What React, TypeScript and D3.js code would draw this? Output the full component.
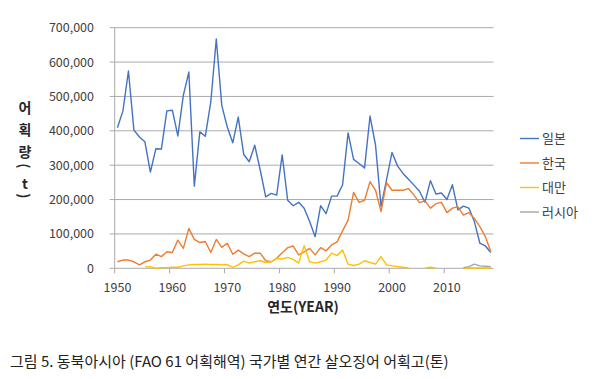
import React from "react";
import * as d3 from "d3";

const years: number[] = d3.range(1950, 2019);

const japan: (number | null)[] = [
  409000, 458000, 574000, 402000, 382000, 368000, 280000, 348000, 347000, 458000,
  460000, 385000, 503000, 571000, 239000, 397000, 384000, 484000, 667000, 474000,
  411000, 365000, 440000, 331000, 310000, 358000, 286000, 208000, 218000, 213000,
  330000, 198000, 182000, 192000, 175000, 136000, 92000, 182000, 159000, 210000,
  210000, 243000, 394000, 317000, 305000, 292000, 443000, 358000, 180000, 257000,
  337000, 298000, 276000, 259000, 242000, 224000, 192000, 255000, 216000, 219000,
  200000, 243000, 170000, 181000, 175000, 136000, 73000, 65000, 46000,
];

const korea: (number | null)[] = [
  19000, 24000, 24000, 19000, 10000, 19000, 24000, 41000, 34000, 48000,
  46000, 82000, 58000, 116000, 84000, 75000, 78000, 46000, 84000, 61000,
  73000, 41000, 53000, 42000, 34000, 44000, 44000, 22000, 19000, 29000,
  45000, 60000, 65000, 39000, 48000, 58000, 39000, 60000, 51000, 68000,
  77000, 109000, 140000, 221000, 192000, 198000, 252000, 227000, 165000, 249000,
  227000, 227000, 227000, 232000, 213000, 191000, 196000, 175000, 188000, 192000,
  162000, 175000, 179000, 155000, 162000, 145000, 121000, 92000, 48000,
];

const taiwan: (number | null)[] = [
  null, null, null, null, null, 4000, 5000, 0, 2000, 2000,
  3000, 3000, 7000, 10000, 11000, 11000, 12000, 11000, 11000, 10000,
  11000, 3000, 10000, 21000, 15000, 19000, 22000, 17000, 19000, 29000,
  27000, 32000, 26000, 15000, 66000, 19000, 15000, 19000, 24000, 44000,
  37000, 53000, 12000, 8000, 12000, 22000, 17000, 12000, 34000, 10000,
  7000, 5000, 3000, 1000, null, null, 0, 3000, 0, null,
  null, null, null, 1000, 1000, 1000, 1000, 1000, 1000,
];

const russia: (number | null)[] = [
  null, null, null, null, null, null, null, null, null, null,
  null, null, null, null, null, null, null, null, null, null,
  null, null, null, null, null, null, null, null, null, null,
  null, null, null, null, null, null, null, null, null, null,
  null, null, null, null, null, null, null, null, null, null,
  null, null, null, null, null, null, null, null, null, null,
  null, null, null, 2000, 5000, 12000, 7000, 6000, 5000,
];

const seriesNames = ["일본", "한국", "대만", "러시아"];
const seriesColors = ["#4472C4", "#ED7D31", "#FFC000", "#A5A5A5"];
const seriesData = [japan, korea, taiwan, russia];

const yTicks = [0, 100000, 200000, 300000, 400000, 500000, 600000, 700000];
const xLabelYears = [1950, 1960, 1970, 1980, 1990, 2000, 2010];

const yTitleChars = ["어", "획", "량"];
const xTitle = "연도(YEAR)";
const caption = "그림 5. 동북아시아 (FAO 61 어획해역) 국가별 연간 살오징어 어획고(톤)";

const FONT = "'Noto Sans CJK KR', 'Noto Sans', sans-serif";

export default function App() {
  const left = 114.7;
  const right = 493.6;
  const top = 27.7;
  const bottom = 268.3;

  const x = d3.scalePoint<number>().domain(years).range([left, right]).padding(0.5);
  const step = x.step();
  const y = d3.scaleLinear().domain([0, 700000]).range([bottom, top]);

  const line = d3
    .line<number | null>()
    .defined((d) => d !== null)
    .x((_, i) => x(years[i]) as number)
    .y((d) => y(d as number));

  const gridColor = "#ABABAB";
  const textColor = "#404040";

  return (
    <svg
      width={600}
      height={379}
      style={{ position: "absolute", left: 0, top: 0, background: "#fff" }}
    >
      {yTicks.map((t) =>
        t === 0 ? null : (
          <line key={t} x1={left} x2={right} y1={y(t)} y2={y(t)} stroke={gridColor} strokeWidth={1} />
        )
      )}
      <line x1={left} x2={left} y1={top} y2={bottom} stroke={gridColor} strokeWidth={1} />
      <line x1={left} x2={right} y1={bottom} y2={bottom} stroke={gridColor} strokeWidth={1} />
      {yTicks.map((t) => (
        <line key={"yt" + t} x1={left - 5} x2={left} y1={y(t)} y2={y(t)} stroke={gridColor} strokeWidth={1} />
      ))}
      {xLabelYears.map((yr) => {
        const bx = (x(yr) as number) - step / 2;
        return <line key={"xt" + yr} x1={bx} x2={bx} y1={bottom} y2={bottom + 5} stroke={gridColor} strokeWidth={1} />;
      })}
      {yTicks.map((t) => (
        <text
          key={"yl" + t}
          x={94}
          y={y(t) + 4.5}
          textAnchor="end"
          fontFamily={FONT}
          fontSize={12.5}
          fill={textColor}
        >
          {d3.format(",")(t)}
        </text>
      ))}
      {xLabelYears.map((yr) => (
        <text
          key={"xl" + yr}
          x={x(yr) as number}
          y={292}
          textAnchor="middle"
          fontFamily={FONT}
          fontSize={12.5}
          fill={textColor}
        >
          {yr}
        </text>
      ))}
      {seriesData.map((data, i) => (
        <path
          key={seriesNames[i]}
          d={line(data) || ""}
          fill="none"
          stroke={seriesColors[i]}
          strokeWidth={1.4}
          strokeLinejoin="round"
        />
      ))}
      {seriesNames.map((name, i) => {
        const ly = 138.5 + i * 24.5;
        return (
          <g key={"lg" + name}>
            <line x1={520} x2={539} y1={ly} y2={ly} stroke={seriesColors[i]} strokeWidth={1.4} />
            <text x={542} y={ly + 4.5} fontFamily={FONT} fontSize={13} fill={textColor}>
              {name}
            </text>
          </g>
        );
      })}
      {yTitleChars.map((c, i) => (
        <text
          key={"ytc" + i}
          x={25}
          y={113 + i * 22}
          textAnchor="middle"
          fontFamily={FONT}
          fontSize={14}
          fontWeight="bold"
          fill="#262626"
        >
          {c}
        </text>
      ))}
      <text
        transform="translate(25,166) rotate(90)"
        textAnchor="middle"
        dominantBaseline="central"
        fontFamily={FONT}
        fontSize={14}
        fontWeight="bold"
        fill="#262626"
      >
        (
      </text>
      <text x={25} y={189} textAnchor="middle" fontFamily={FONT} fontSize={14} fontWeight="bold" fill="#262626">
        t
      </text>
      <text
        transform="translate(25,196) rotate(90)"
        textAnchor="middle"
        dominantBaseline="central"
        fontFamily={FONT}
        fontSize={14}
        fontWeight="bold"
        fill="#262626"
      >
        )
      </text>
      <text x={303} y={312} textAnchor="middle" fontFamily={FONT} fontSize={14} fontWeight="bold" fill="#262626">
        {xTitle}
      </text>
      <text x={10} y={367} fontFamily={FONT} fontSize={15} fill="#222">
        {caption}
      </text>
    </svg>
  );
}
